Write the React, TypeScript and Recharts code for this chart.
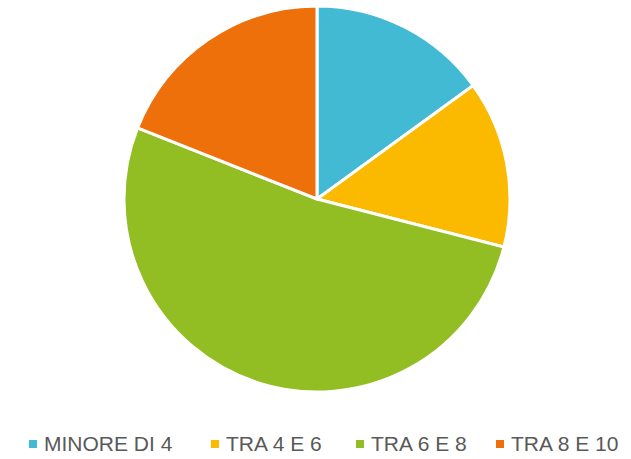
import { PieChart, Pie, Cell, Legend } from 'recharts'

const categories = ['MINORE DI 4', 'TRA 4 E 6', 'TRA 6 E 8', 'TRA 8 E 10']
const values = [15, 14, 52, 19]
const colors = ['#42BAD3', '#FBB900', '#92BD23', '#EE700B']

const data = categories.map((name, i) => ({ name, value: values[i] }))

// left edge of each legend marker
const legendX = [29, 211, 356, 496]

function renderLegend() {
  return (
    <div style={{ position: 'relative', height: 28, width: 631 }}>
      {categories.map((c, i) => (
        <div
          key={c}
          style={{
            position: 'absolute',
            left: legendX[i],
            top: 0,
            display: 'flex',
            alignItems: 'center',
            fontFamily: '"Liberation Sans Narrow", "Liberation Sans", sans-serif',
            fontSize: 21,
            lineHeight: '28px',
            color: '#595959',
            whiteSpace: 'nowrap',
          }}
        >
          <span
            style={{
              display: 'inline-block',
              width: 8,
              height: 8,
              background: colors[i],
              marginRight: 7,
            }}
          />
          {c}
        </div>
      ))}
    </div>
  )
}

export default function App() {
  return (
    <div style={{ position: 'absolute', left: 0, top: 0, background: '#fff' }}>
      <PieChart width={631} height={459} margin={{ top: 0, right: 0, bottom: 0, left: 0 }}>
        <Pie
          data={data}
          dataKey="value"
          cx={317}
          cy={199}
          outerRadius={193}
          startAngle={90}
          endAngle={-270}
          stroke="#fff"
          strokeWidth={3}
          isAnimationActive={false}
        >
          {data.map((d, i) => (
            <Cell key={d.name} fill={colors[i]} />
          ))}
        </Pie>
        <Legend
          content={renderLegend}
          verticalAlign="bottom"
          wrapperStyle={{ left: 0, top: 430, width: 631 }}
        />
      </PieChart>
    </div>
  )
}
